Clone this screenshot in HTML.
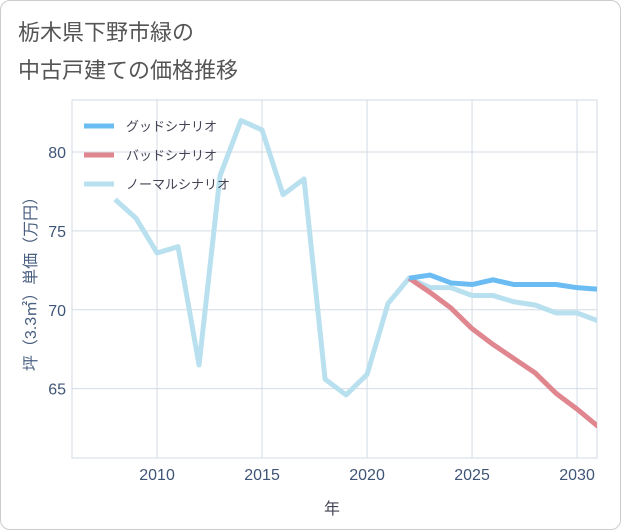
<!DOCTYPE html>
<html><head><meta charset="utf-8"><style>
body{margin:0;background:#fff;font-family:"Liberation Sans","Noto Sans CJK JP",sans-serif;}
#card{position:absolute;left:0;top:0;width:619px;height:528px;border:1px solid #ccc;border-radius:10px;background:#fff;}
</style></head><body>
<div id="card">
<svg id="chart" width="621" height="530" style="position:absolute;left:-1px;top:-1px">
<defs><clipPath id="pc"><rect x="72" y="100" width="525" height="358"/></clipPath></defs>
<text x="18" y="40" font-size="22" fill="#555">栃木県下野市緑の</text>
<text x="18" y="78" font-size="22" fill="#555">中古戸建ての価格推移</text>
<g id="grid"></g><g id="series" clip-path="url(#pc)"></g>
<text x="332" y="514" font-size="16" fill="#445" text-anchor="middle">年</text>
<text transform="translate(36,280) rotate(-90)" font-size="16" fill="#4a6080" text-anchor="middle">坪（3.3㎡）単価（万円）</text>
<g id="legend"></g>
</svg>
</div>
<script>
const years=[2008,2009,2010,2011,2012,2013,2014,2015,2016,2017,2018,2019,2020,2021,2022,2023,2024,2025,2026,2027,2028,2029,2030,2031];
const normal=[77.0,75.8,73.6,74.0,66.5,78.5,82.0,81.4,77.3,78.3,65.6,64.6,65.9,70.4,72.0,71.4,71.4,70.9,70.9,70.5,70.3,69.8,69.8,69.3];
const fYears=[2022,2023,2024,2025,2026,2027,2028,2029,2030,2031];
const good=[72.0,72.2,71.7,71.6,71.9,71.6,71.6,71.6,71.4,71.3];
const bad=[72.0,71.1,70.1,68.8,67.8,66.9,66.0,64.7,63.7,62.6];
const xTicks=[2010,2015,2020,2025,2030];
const yTicks=[65,70,75,80];
const L=72,R=597,T=100,B=458,x0=2005.95,x1=2030.95,y0=60.6,y1=83.3;
const X=v=>L+(v-x0)/(x1-x0)*(R-L);
const Y=v=>B-(v-y0)/(y1-y0)*(B-T);
const NS="http://www.w3.org/2000/svg";
function mk(tag,attrs,parent){const e=document.createElementNS(NS,tag);for(const k in attrs)e.setAttribute(k,attrs[k]);parent.appendChild(e);return e;}
const grid=document.getElementById('grid');
const bg=mk('rect',{x:L,y:T,width:R-L,height:B-T,fill:'#fff',stroke:'#d3dbe5'},grid);


xTicks.forEach(t=>{
 const l=mk('line',{x1:X(t),x2:X(t),y1:T,y2:B,stroke:'#d3dbe5'},grid);
 
 
 const tx=mk('text',{x:X(t),y:B+22,'font-size':16,fill:'#3f5577','text-anchor':'middle'},grid);tx.textContent=t;
 
 
});
yTicks.forEach(t=>{
 const l=mk('line',{x1:L,x2:R,y1:Y(t),y2:Y(t),stroke:'#d3dbe5'},grid);
 
 
 const tx=mk('text',{x:L-6,y:Y(t)+6,'font-size':16,fill:'#3f5577','text-anchor':'end'},grid);tx.textContent=t;
 
 
});
const S=document.getElementById('series');
function line(xs,vs,color,name){
 const p=mk('polyline',{points:xs.map((x,i)=>X(x)+','+Y(vs[i])).join(' '),fill:'none',stroke:color,'stroke-width':5,'stroke-linejoin':'round'},S);
 
 
}
line(years,normal,'#b9e0ef','normal-scenario-line');
line(fYears,bad,'#e0868f','bad-scenario-line');
line(fYears,good,'#6bbcf2','good-scenario-line');
const lg=document.getElementById('legend');
[['グッドシナリオ','#6bbcf2'],['バッドシナリオ','#e0868f'],['ノーマルシナリオ','#b9e0ef']].forEach((d,i)=>{
 const y=126+i*29;
 const l=mk('line',{x1:84,x2:114,y1:y,y2:y,stroke:d[1],'stroke-width':5},lg);
 
 
 const t=mk('text',{x:126,y:y+5,'font-size':13,fill:'#445'},lg);t.textContent=d[0];
 
 
});
</script>
</body></html>
